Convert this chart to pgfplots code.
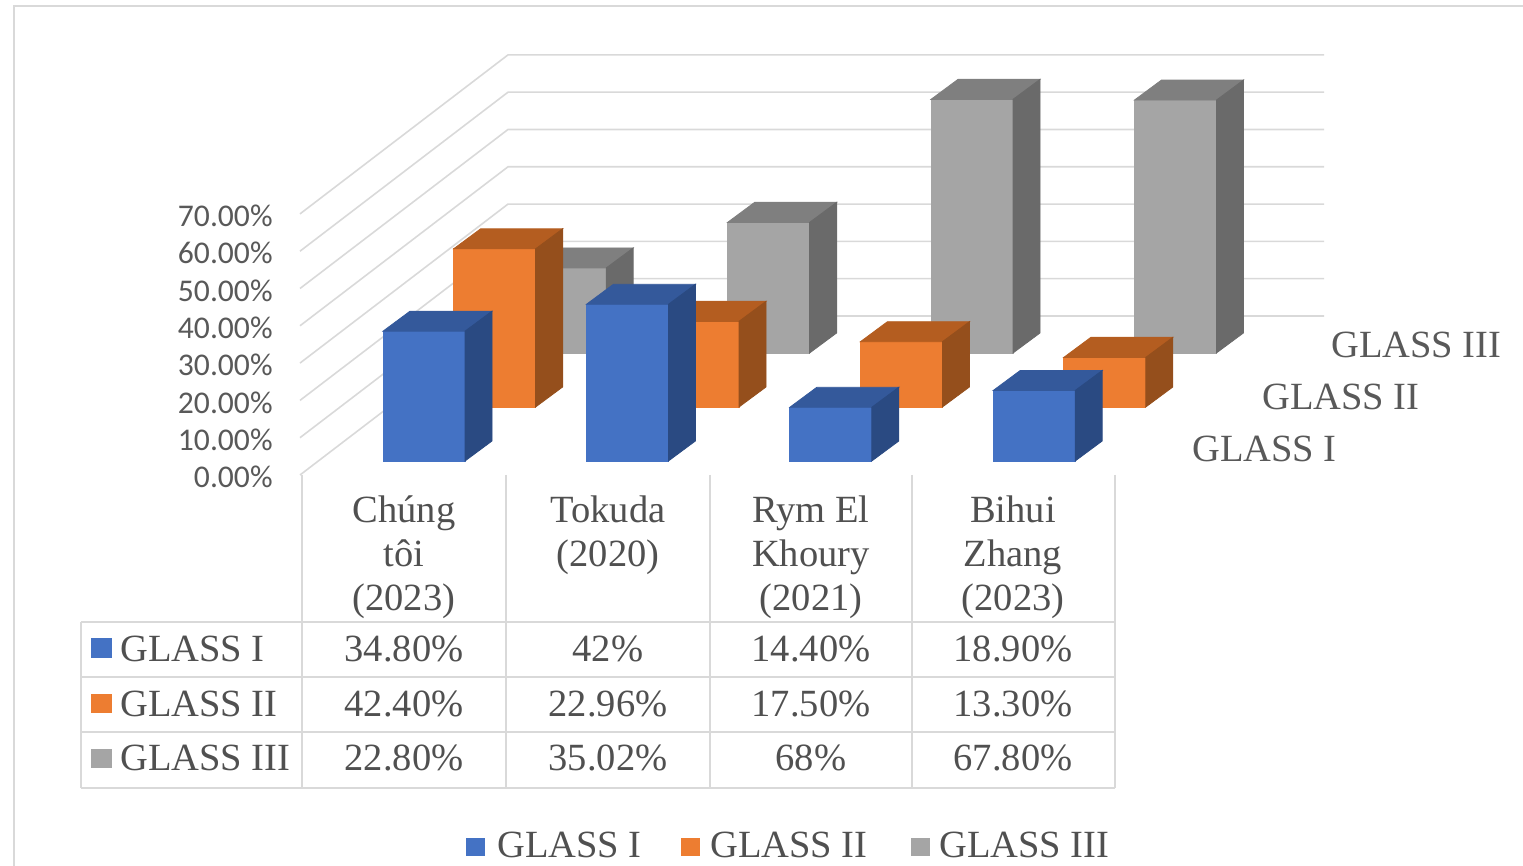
\documentclass[border=0pt]{standalone}
\usepackage{pgfplots}
\pgfplotsset{compat=1.18}
\usepackage{pgfplotstable}
\usepackage{fontspec}
\setmainfont{Liberation Serif}
\newfontfamily\carlito{Carlito}
\definecolor{bF}{HTML}{4472C4}\definecolor{bT}{HTML}{34599B}\definecolor{bS}{HTML}{2A4A82}
\definecolor{oF}{HTML}{ED7D31}\definecolor{oT}{HTML}{B45D20}\definecolor{oS}{HTML}{954F1C}
\definecolor{gF}{HTML}{A5A5A5}\definecolor{gT}{HTML}{7F7F7F}\definecolor{gS}{HTML}{6A6A6A}
\definecolor{gridc}{HTML}{D9D9D9}
\definecolor{txt}{HTML}{505050}
\definecolor{ticktxt}{HTML}{595959}
\pgfdeclareplotmark{nothing}{}
\pgfplotstableread{
i g1 g2 g3
0 34.80 42.40 22.80
1 42.00 22.96 35.02
2 14.40 17.50 68.00
3 18.90 13.30 67.80
}\data
\pgfplotsset{
  bar3d/.style n args={3}{
    scatter, only marks, mark=nothing,
    scatter/@pre marker code/.code={%
      \pgfmathsetlengthmacro{\h}{\val*1.865pt}%
      \fill[#1] (0pt,0pt) rectangle (41pt,\h);
      \fill[#2] (0pt,\h) -- (41pt,\h) -- (54.5pt,\h+10pt) -- (13.5pt,\h+10pt) -- cycle;
      \fill[#3] (41pt,0pt) -- (54.5pt,10pt) -- (54.5pt,\h+10pt) -- (41pt,\h) -- cycle;
    },
    scatter/@post marker code/.code={},
  }
}
\newcommand{\tf}{\fontsize{19.25pt}{22.5pt}\selectfont}
\begin{document}
\begin{tikzpicture}
\useasboundingbox (-150pt,-195.5pt) rectangle (611.5pt,237.5pt);
% walls gridlines (pixel frame)
\begin{scope}[x=0.5pt,y=-0.5pt,shift={(-150pt,237.5pt)}]
\foreach \k in {0,...,7}{
  \draw[gridc, line width=0.8pt] (300,{475-37.3*\k}) -- (508,{316-37.3*\k}) -- (1324,{316-37.3*\k});
}
\end{scope}
\begin{axis}[
  at={(0pt,0pt)}, anchor=south west,
  x=101.7pt, y=1.865pt,
  xmin=-0.5, xmax=4.534, ymin=0, ymax=112.6,
  clip=false,
  axis x line=none, axis y line*=left,
  y axis line style={draw=none}, ytick style={draw=none},
  xtick=\empty, ytick={0,10,...,70},
  /pgf/number format/assume math mode=true,
  yticklabel={\pgfmathprintnumber[fixed,fixed zerofill,precision=2]{\tick}\%},
  yticklabel style={font=\carlito\fontsize{15.8pt}{18pt}\selectfont, text=ticktxt, inner sep=0pt, anchor=east, xshift=-13.5pt, yshift=-1pt},
]
% GLASS III (back row)
\addplot[bar3d={gF}{gT}{gS}, visualization depends on={\thisrow{g3} \as \val}]
  table[x expr=\thisrow{i}-0.0919+2*0.3471, y expr=3.753+2*14.477] {\data};
% GLASS II
\addplot[bar3d={oF}{oT}{oS}, visualization depends on={\thisrow{g2} \as \val}]
  table[x expr=\thisrow{i}-0.0919+0.3471, y expr=3.753+14.477] {\data};
% GLASS I (front row)
\addplot[bar3d={bF}{bT}{bS}, visualization depends on={\thisrow{g1} \as \val}]
  table[x expr=\thisrow{i}-0.0919, y expr=3.753] {\data};
\end{axis}
\begin{scope}[x=0.5pt,y=-0.5pt,shift={(-150pt,237.5pt)}]
% frame
\draw[gridc, line width=0.8pt] (14,870) -- (14,6) -- (1530,6);
% depth labels
\node[anchor=base west, inner sep=0pt, text=ticktxt, font=\tf] at (1192,462) {GLASS I};
\node[anchor=base west, inner sep=0pt, text=ticktxt, font=\tf] at (1262,410) {GLASS II};
\node[anchor=base west, inner sep=0pt, text=ticktxt, font=\tf] at (1331,358) {GLASS III};
% data table lines
\foreach \yy in {622,677,732,788} \draw[gridc, line width=0.8pt] (81,\yy) -- (1115,\yy);
\draw[gridc, line width=0.8pt] (81,622) -- (81,788);
\foreach \xx in {302,506,710,912,1115} \draw[gridc, line width=0.8pt] (\xx,475) -- (\xx,788);
% header
\begin{scope}[every node/.style={anchor=base, inner sep=0pt, text=txt, font=\tf}]
\node at (404,523) {Chúng}; \node at (404,567) {tôi}; \node at (404,611) {(2023)};
\node at (608,523) {Tokuda}; \node at (608,567) {(2020)};
\node at (811,523) {Rym El}; \node at (811,567) {Khoury}; \node at (811,611) {(2021)};
\node at (1013,523) {Bihui}; \node at (1013,567) {Zhang}; \node at (1013,611) {(2023)};
% values
\node at (404,662) {34.80\%}; \node at (608,662) {42\%}; \node at (811,662) {14.40\%}; \node at (1013,662) {18.90\%};
\node at (404,717) {42.40\%}; \node at (608,717) {22.96\%}; \node at (811,717) {17.50\%}; \node at (1013,717) {13.30\%};
\node at (404,771) {22.80\%}; \node at (608,771) {35.02\%}; \node at (811,771) {68\%}; \node at (1013,771) {67.80\%};
\end{scope}
% row keys
\fill[bF] (91,638) rectangle (112,658);
\fill[oF] (91,694) rectangle (112,713);
\fill[gF] (91,749) rectangle (112,768);
\begin{scope}[every node/.style={anchor=base west, inner sep=0pt, text=txt, font=\tf}]
\node at (120,662) {GLASS I};
\node at (120,717) {GLASS II};
\node at (120,771) {GLASS III};
% legend
\fill[bF] (466,838) rectangle (485,856); \node at (497,858) {GLASS I};
\fill[oF] (681,838) rectangle (700,856); \node at (710,858) {GLASS II};
\fill[gF] (911,838) rectangle (930,856); \node at (939,858) {GLASS III};
\end{scope}
\end{scope}
\end{tikzpicture}
\end{document}
